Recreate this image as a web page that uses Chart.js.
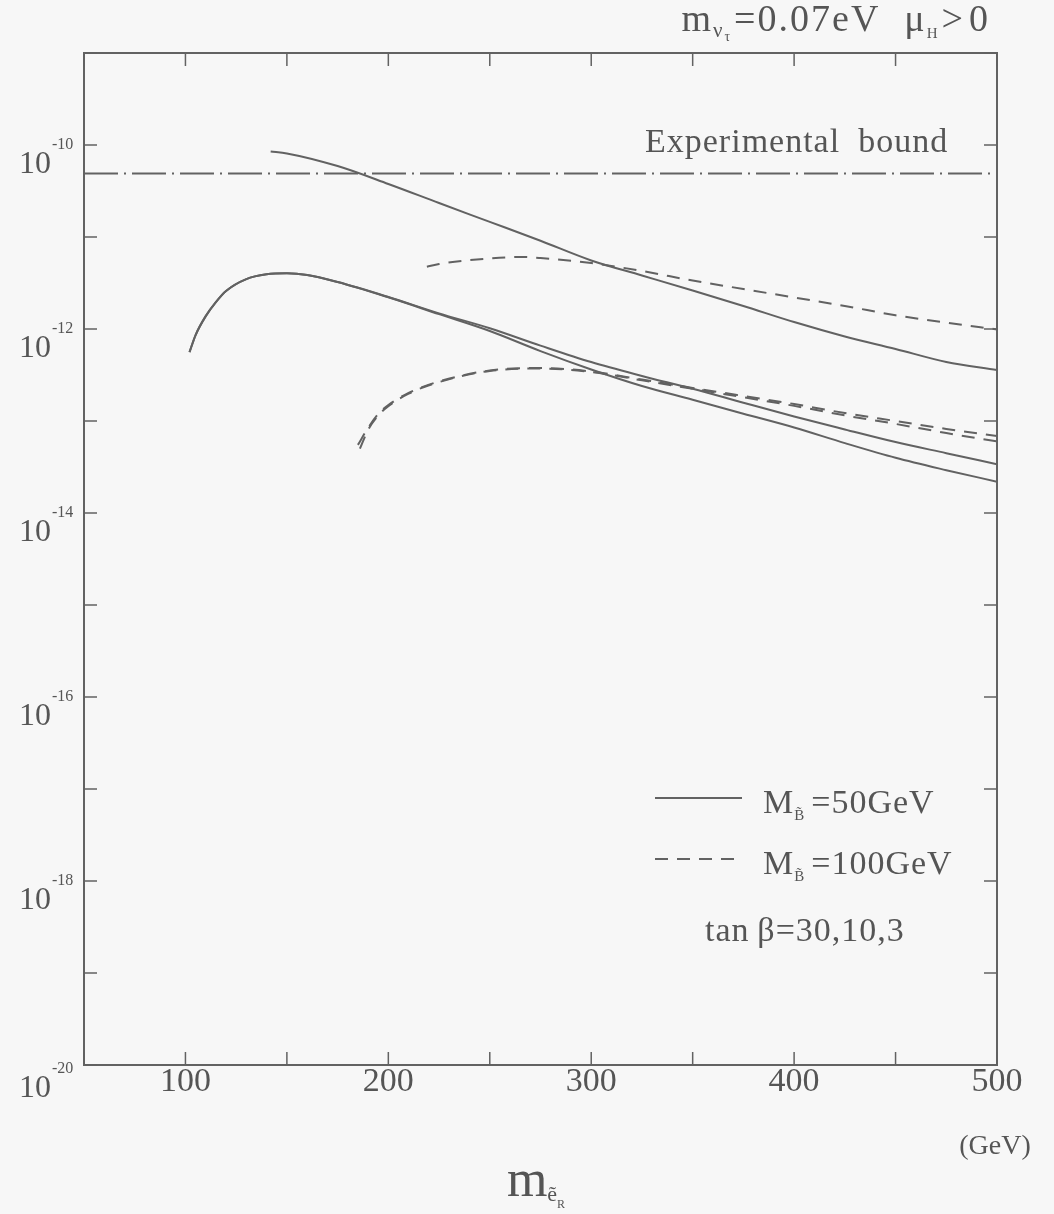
<!DOCTYPE html>
<html><head><meta charset="utf-8">
<script src="https://cdn.jsdelivr.net/npm/chart.js@4/dist/chart.umd.min.js"></script>
<style>html,body{margin:0;padding:0;background:#f7f7f7}</style>
</head><body>
<canvas id="c" width="1054" height="1214"></canvas>
<script>
// ---- data ----
const boundMass = [50, 497];
const boundBr = [4.9e-11, 4.9e-11];

const massA = [142, 150, 175, 200, 225, 250, 275, 300, 325, 350, 375, 400, 425, 450, 475, 500];
const brA   = [8.5e-11, 8.1e-11, 5.9e-11, 3.77e-11, 2.34e-11, 1.46e-11, 9.1e-12, 5.56e-12, 3.82e-12, 2.62e-12, 1.78e-12, 1.19e-12, 8.3e-13, 6.07e-13, 4.38e-13, 3.58e-13];

const massB = [102, 105, 110, 115, 120, 130, 140, 150, 160, 175, 200, 225, 250, 275, 300, 325, 350, 375, 400, 425, 450, 475, 500];
const brB   = [5.6e-13, 8.6e-13, 1.38e-12, 1.96e-12, 2.59e-12, 3.49e-12, 3.93e-12, 4.03e-12, 3.86e-12, 3.24e-12, 2.23e-12, 1.48e-12, 1.02e-12, 6.6e-13, 4.37e-13, 3.09e-13, 2.24e-13, 1.58e-13, 1.12e-13, 8.1e-14, 5.9e-14, 4.47e-14, 3.39e-14];
const brC   = [5.6e-13, 8.6e-13, 1.38e-12, 1.96e-12, 2.59e-12, 3.49e-12, 3.93e-12, 4.03e-12, 3.86e-12, 3.24e-12, 2.21e-12, 1.45e-12, 9.5e-13, 5.75e-13, 3.63e-13, 2.4e-13, 1.7e-13, 1.2e-13, 8.5e-14, 5.75e-14, 3.98e-14, 2.92e-14, 2.19e-14];

const massD = [185, 190, 195, 200, 210, 225, 250, 275, 300, 325, 350, 375, 400, 425, 450, 475, 500];
const brD   = [5.5e-14, 8.4e-14, 1.19e-13, 1.49e-13, 2.02e-13, 2.69e-13, 3.54e-13, 3.77e-13, 3.45e-13, 2.82e-13, 2.29e-13, 1.87e-13, 1.53e-13, 1.22e-13, 1.0e-13, 8.2e-14, 6.87e-14];
const massE = [186, 190, 195, 200, 210, 225, 250, 275, 300, 325, 350, 375, 400, 425, 450, 475, 500];
const brE   = [5.0e-14, 8.0e-14, 1.15e-13, 1.45e-13, 1.98e-13, 2.65e-13, 3.5e-13, 3.72e-13, 3.4e-13, 2.77e-13, 2.24e-13, 1.81e-13, 1.46e-13, 1.15e-13, 9.3e-14, 7.4e-14, 6.0e-14];

const massF = [219, 225, 250, 265, 275, 300, 325, 350, 375, 400, 425, 450, 475, 500];
const brF   = [4.75e-12, 5.09e-12, 5.84e-12, 6.07e-12, 5.91e-12, 5.21e-12, 4.27e-12, 3.36e-12, 2.72e-12, 2.2e-12, 1.78e-12, 1.41e-12, 1.17e-12, 9.9e-13];

const xTickValues = [50, 100, 150, 200, 250, 300, 350, 400, 450, 500];
const xTickLabels = ['', '100', '', '200', '', '300', '', '400', '', '500'];
const yTickExps = [-20, -19, -18, -17, -16, -15, -14, -13, -12, -11, -10, -9];
const yLabelExps = [-20, -18, -16, -14, -12, -10];

const legendLabels = ['=50GeV', '=100GeV'];
const tanBetaText = 'tan\u2009\u03b2=30,10,3';

// ---- drawing ----
const FONT = '"Liberation Serif","DejaVu Serif",serif';
const LINE = '#626262';
const TEXT = '#555555';

function pts(xs, ys){ return xs.map((x,i)=>({x:x, y:ys[i]})); }

function rich(ctx, parts, x, y, align){
  let w = 0;
  parts.forEach(p=>{ ctx.font = p.s + 'px ' + FONT; p.w = ctx.measureText(p.t).width; w += p.w + (p.gap||0); });
  let cx = align === 'right' ? x - w : (align === 'center' ? x - w/2 : x);
  ctx.textAlign = 'left'; ctx.textBaseline = 'alphabetic';
  parts.forEach(p=>{ ctx.font = p.s + 'px ' + FONT; ctx.fillText(p.t, cx, y + (p.dy||0)); cx += p.w + (p.gap||0); });
}

const decor = {
  id: 'decor',
  beforeDraw(chart){
    const c = chart.ctx; c.save(); c.fillStyle = '#f7f7f7'; c.fillRect(0,0,chart.width,chart.height); c.restore();
  },
  afterDraw(chart){
    const ctx = chart.ctx, xs = chart.scales.x, ys = chart.scales.y, a = chart.chartArea;
    ctx.save();
    ctx.strokeStyle = LINE; ctx.lineWidth = 2;
    ctx.strokeRect(a.left, a.top, a.right - a.left, a.bottom - a.top);
    ctx.lineWidth = 1.5;
    const ln = (x1,y1,x2,y2)=>{ ctx.beginPath(); ctx.moveTo(x1,y1); ctx.lineTo(x2,y2); ctx.stroke(); };
    yTickExps.forEach(e=>{ const py = ys.getPixelForValue(Math.pow(10,e)); ln(a.left,py,a.left+13,py); ln(a.right-13,py,a.right,py); });
    xTickValues.forEach(v=>{ const px = xs.getPixelForValue(v); ln(px,a.top,px,a.top+13); ln(px,a.bottom-13,px,a.bottom); });

    ctx.fillStyle = TEXT;
    // y tick labels
    yLabelExps.forEach(e=>{
      const py = ys.getPixelForValue(Math.pow(10,e));
      const off = e === -20 ? 4 : 0;
      ctx.font = '32px ' + FONT; ctx.textAlign = 'right'; ctx.textBaseline = 'alphabetic';
      ctx.fillText('10', 51, py + 28 + off);
      ctx.font = '16px ' + FONT; ctx.textAlign = 'left';
      ctx.fillText('-' + Math.abs(e), 52, py + 4 + off);
    });
    // (GeV)
    ctx.font = '28px ' + FONT; ctx.textAlign = 'center';
    ctx.fillText('(GeV)', 995, 1154);
    // x title
    rich(ctx, [{t:'m', s:52}, {t:'e\u0303', s:22, dy:5}, {t:'R', s:12, dy:12}], 536, 1196, 'center');
    // top right note
    ctx.letterSpacing = '2px';
    rich(ctx, [{t:'m', s:38}, {t:'\u03bd', s:21, dy:6}, {t:'\u03c4', s:14, dy:10, gap:2}, {t:'=0.07eV', s:38, gap:24},
               {t:'\u03bc', s:38}, {t:'H', s:15, dy:7, gap:2}, {t:'>', s:38, gap:4}, {t:'0', s:38}], 990, 31, 'right');
    // experimental bound
    ctx.letterSpacing = '1px';
    ctx.font = '34px ' + FONT; ctx.textAlign = 'left';
    ctx.fillText('Experimental\u2002bound', 645, 152);
    // legend
    const ds = chart.data.datasets;
    const leg = [{d:ds[1], y:798, lbl:legendLabels[0]}, {d:ds[4], y:859, lbl:legendLabels[1]}];
    leg.forEach(L=>{
      ctx.strokeStyle = L.d.borderColor; ctx.lineWidth = L.d.borderWidth;
      ctx.setLineDash(L.d.borderDash || []);
      ln(655, L.y, 742, L.y);
      ctx.setLineDash([]);
      rich(ctx, [{t:'M', s:34}, {t:'B\u0303', s:15, dy:7, gap:6}, {t:L.lbl, s:34}], 763, L.y + 15, 'left');
    });
    ctx.font = '34px ' + FONT; ctx.textAlign = 'left';
    ctx.fillText(tanBetaText, 705, 941);
    ctx.letterSpacing = '0px';
    ctx.restore();
  }
};

const solid = {borderColor: LINE, borderWidth: 2, pointRadius: 0, fill: false, cubicInterpolationMode: 'monotone'};
const dashed = Object.assign({}, solid, {borderDash: [13, 9]});

new Chart(document.getElementById('c'), {
  type: 'line',
  data: {
    datasets: [
      Object.assign({}, solid, {label: 'Experimental bound', data: pts(boundMass, boundBr), borderDash: [34, 6, 2, 6], borderWidth: 2}),
      Object.assign({}, solid, {label: 'M=50GeV tan\u03b2=30', data: pts(massA, brA)}),
      Object.assign({}, solid, {label: 'M=50GeV tan\u03b2=10', data: pts(massB, brB)}),
      Object.assign({}, solid, {label: 'M=50GeV tan\u03b2=3', data: pts(massB, brC)}),
      Object.assign({}, dashed, {label: 'M=100GeV tan\u03b2=30', data: pts(massF, brF)}),
      Object.assign({}, dashed, {label: 'M=100GeV tan\u03b2=10', data: pts(massD, brD)}),
      Object.assign({}, dashed, {label: 'M=100GeV tan\u03b2=3', data: pts(massE, brE)})
    ]
  },
  options: {
    responsive: false,
    devicePixelRatio: 1,
    animation: false,
    layout: {padding: {top: 53, right: 57, left: 0, bottom: 0}},
    plugins: {legend: {display: false}, tooltip: {enabled: false}},
    scales: {
      x: {
        type: 'linear', min: 50, max: 500,
        grid: {display: false, drawTicks: false},
        border: {display: false},
        afterFit: s => { s.height = 149; },
        afterBuildTicks: s => { s.ticks = xTickValues.map(v => ({value: v})); },
        ticks: {
          autoSkip: false, maxRotation: 0, padding: -3, color: TEXT,
          font: {family: FONT, size: 34},
          callback: (v) => { const i = xTickValues.indexOf(v); return i >= 0 ? xTickLabels[i] : ''; }
        }
      },
      y: {
        type: 'logarithmic', min: 1e-20, max: 1e-9,
        grid: {display: false, drawTicks: false},
        border: {display: false},
        afterFit: s => { s.width = 84; },
        afterBuildTicks: s => { s.ticks = yTickExps.map(e => ({value: Math.pow(10, e)})); },
        ticks: {display: false}
      }
    }
  },
  plugins: [decor]
});
</script>
</body></html>
